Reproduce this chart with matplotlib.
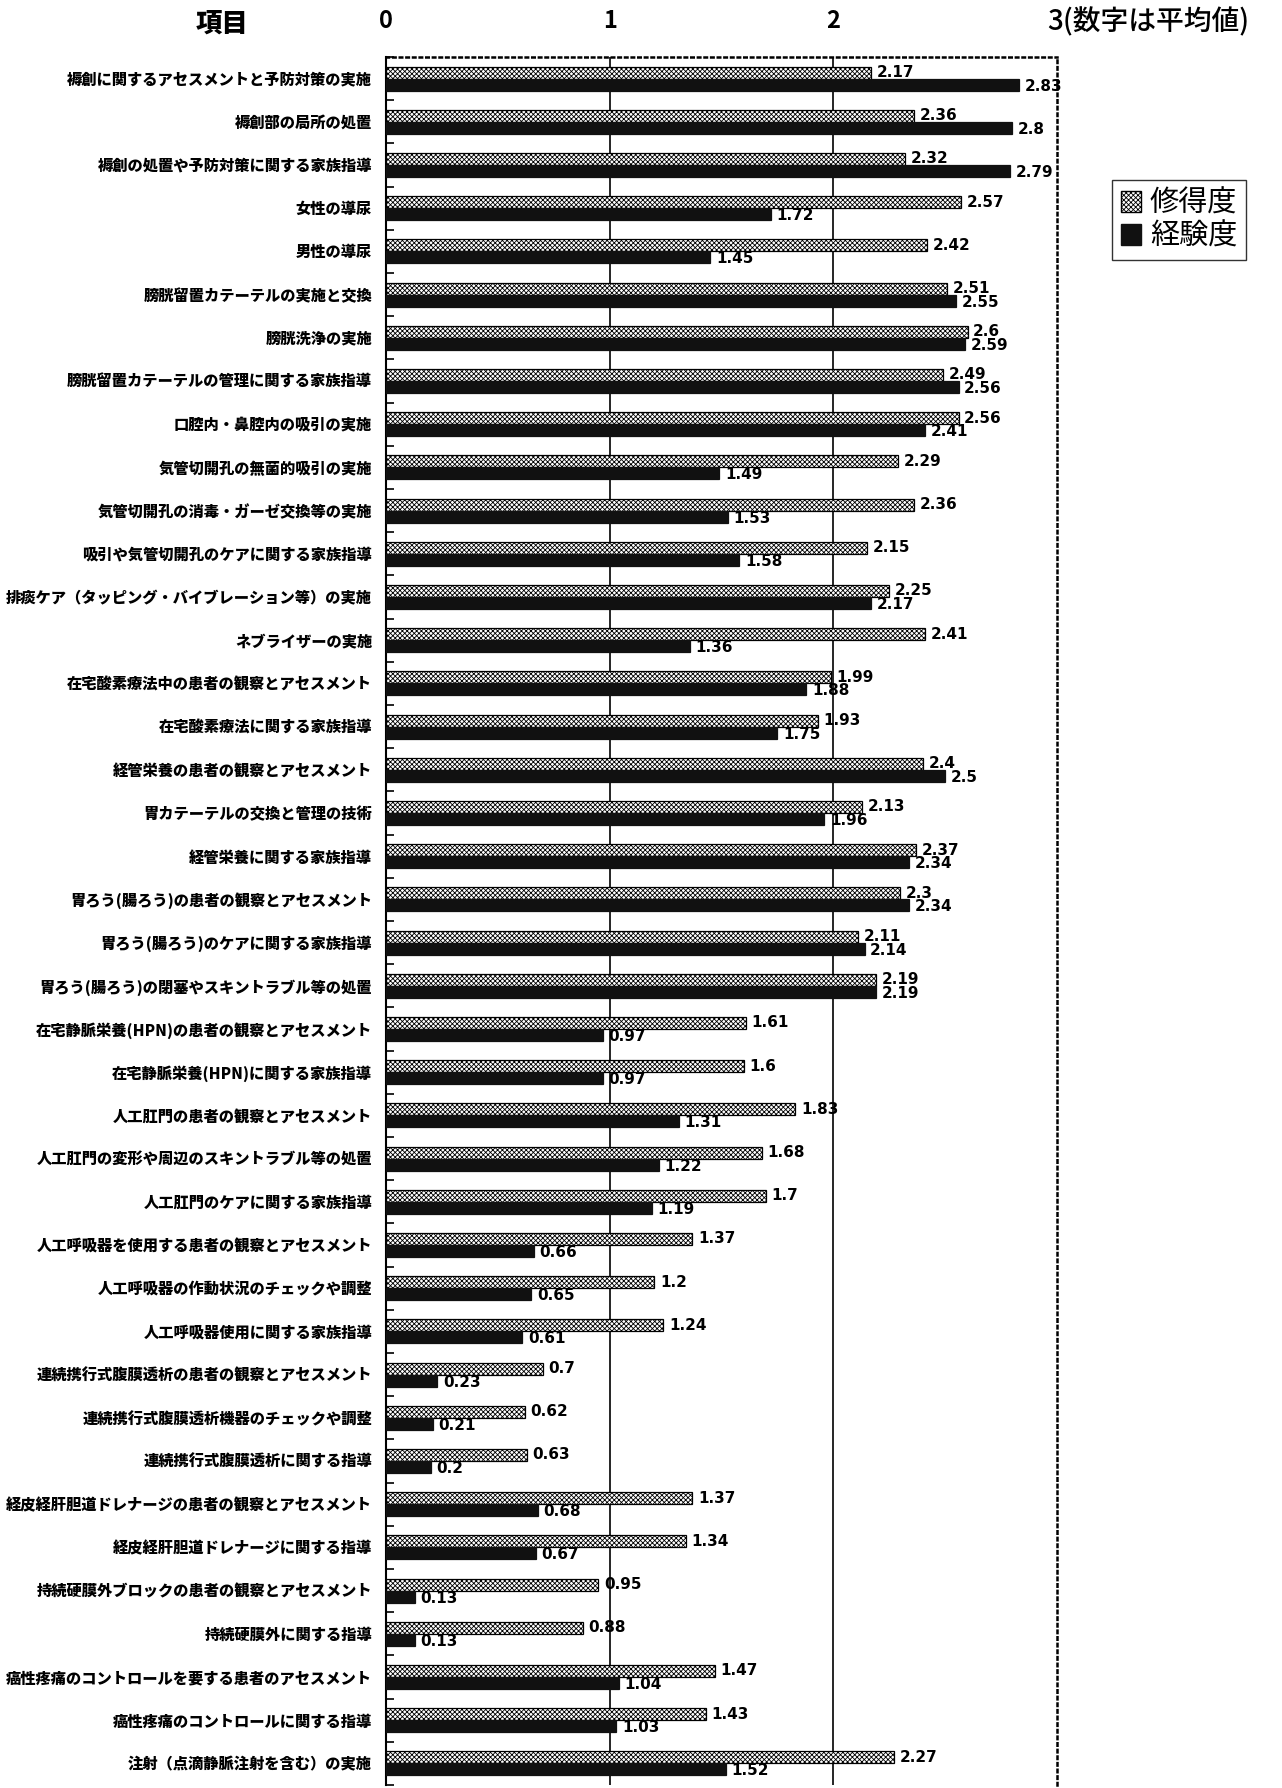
import numpy as np
import matplotlib.pyplot as plt
from matplotlib.patches import Patch

plt.rcParams['font.family'] = ['Noto Sans CJK JP', 'DejaVu Sans']
plt.rcParams['hatch.linewidth'] = 0.6

items = [
    '褥創に関するアセスメントと予防対策の実施',
    '褥創部の局所の処置',
    '褥創の処置や予防対策に関する家族指導',
    '女性の導尿',
    '男性の導尿',
    '膀胱留置カテーテルの実施と交換',
    '膀胱洗浄の実施',
    '膀胱留置カテーテルの管理に関する家族指導',
    '口腔内・鼻腔内の吸引の実施',
    '気管切開孔の無菌的吸引の実施',
    '気管切開孔の消毒・ガーゼ交換等の実施',
    '吸引や気管切開孔のケアに関する家族指導',
    '排痰ケア（タッピング・バイブレーション等）の実施',
    'ネブライザーの実施',
    '在宅酸素療法中の患者の観察とアセスメント',
    '在宅酸素療法に関する家族指導',
    '経管栄養の患者の観察とアセスメント',
    '胃カテーテルの交換と管理の技術',
    '経管栄養に関する家族指導',
    '胃ろう(腸ろう)の患者の観察とアセスメント',
    '胃ろう(腸ろう)のケアに関する家族指導',
    '胃ろう(腸ろう)の閉塞やスキントラブル等の処置',
    '在宅静脈栄養(HPN)の患者の観察とアセスメント',
    '在宅静脈栄養(HPN)に関する家族指導',
    '人工肛門の患者の観察とアセスメント',
    '人工肛門の変形や周辺のスキントラブル等の処置',
    '人工肛門のケアに関する家族指導',
    '人工呼吸器を使用する患者の観察とアセスメント',
    '人工呼吸器の作動状況のチェックや調整',
    '人工呼吸器使用に関する家族指導',
    '連続携行式腹膜透析の患者の観察とアセスメント',
    '連続携行式腹膜透析機器のチェックや調整',
    '連続携行式腹膜透析に関する指導',
    '経皮経肝胆道ドレナージの患者の観察とアセスメント',
    '経皮経肝胆道ドレナージに関する指導',
    '持続硬膜外ブロックの患者の観察とアセスメント',
    '持続硬膜外に関する指導',
    '癌性疼痛のコントロールを要する患者のアセスメント',
    '癌性疼痛のコントロールに関する指導',
    '注射（点滴静脈注射を含む）の実施',
]

shutoku = [2.17, 2.36, 2.32, 2.57, 2.42, 2.51, 2.6, 2.49, 2.56, 2.29,
           2.36, 2.15, 2.25, 2.41, 1.99, 1.93, 2.4, 2.13, 2.37, 2.3,
           2.11, 2.19, 1.61, 1.6, 1.83, 1.68, 1.7, 1.37, 1.2, 1.24,
           0.7, 0.62, 0.63, 1.37, 1.34, 0.95, 0.88, 1.47, 1.43, 2.27]

keiken = [2.83, 2.8, 2.79, 1.72, 1.45, 2.55, 2.59, 2.56, 2.41, 1.49,
          1.53, 1.58, 2.17, 1.36, 1.88, 1.75, 2.5, 1.96, 2.34, 2.34,
          2.14, 2.19, 0.97, 0.97, 1.31, 1.22, 1.19, 0.66, 0.65, 0.61,
          0.23, 0.21, 0.2, 0.68, 0.67, 0.13, 0.13, 1.04, 1.03, 1.52]

xticks = [0, 1, 2]
xticklabels = ['0', '1', '2']

W, H = 1282, 1788
fig = plt.figure(figsize=(W / 100, H / 100), dpi=100)
ax = fig.add_axes([386 / W, 3 / H, 671 / W, 1728 / H])

y = np.arange(len(items))
h = 0.28
ax.barh(y - h / 2, shutoku, height=h, color='white', edgecolor='black',
        hatch='xxxxxxx', linewidth=0.9, zorder=3)
ax.barh(y + h / 2, keiken, height=h, color='#111111', edgecolor='#111111',
        linewidth=0.9, zorder=3)

numfont = dict(family=['Liberation Sans Narrow', 'DejaVu Sans'],
               fontsize=11, fontweight='bold')
for i in range(len(items)):
    ax.annotate(f'{shutoku[i]:g}', (shutoku[i], y[i] - h / 2),
                xytext=(4, 0), textcoords='offset points',
                va='center', ha='left', **numfont)
    ax.annotate(f'{keiken[i]:g}', (keiken[i], y[i] + h / 2),
                xytext=(4, -1), textcoords='offset points',
                va='center', ha='left', **numfont)

ax.set_xlim(0, 3)
ax.set_ylim(len(items) - 0.5, -0.5)

for gx in [1, 2]:
    ax.axvline(gx, color='black', linewidth=1.2, zorder=1)

ax.set_yticks(y)
ax.set_yticklabels(items, fontsize=11, fontweight='heavy')
ax.set_yticks(np.arange(len(items) + 1) - 0.5, minor=True)
ax.tick_params(axis='y', which='major', length=0, pad=10)
ax.tick_params(axis='y', which='minor', direction='in', length=6, width=1.2)

ax.xaxis.tick_top()
ax.set_xticks(xticks)
ax.set_xticklabels(xticklabels, fontsize=17, fontweight='bold')
ax.tick_params(axis='x', which='major', length=0, pad=17)
ax.annotate('3(数字は平均値)', (3, 1), xycoords=('data', 'axes fraction'),
            xytext=(-7, 15), textcoords='offset points',
            ha='left', va='bottom', fontsize=20, fontweight='medium')
ax.annotate('項目', (222 / W, 1 - 23 / H), xycoords='figure fraction',
            ha='center', va='center', fontsize=19, fontweight='heavy')

# chart is cut off at the bottom in the source, so no bottom frame
ax.spines['left'].set_linewidth(1.5)
ax.spines['bottom'].set_visible(False)
for s in ['top', 'right']:
    ax.spines[s].set_linestyle(':')
    ax.spines[s].set_linewidth(1.8)

handles = [Patch(facecolor='white', edgecolor='black', hatch='xxxxxxx', label='修得度'),
           Patch(facecolor='#111111', edgecolor='#111111', label='経験度')]
fig.legend(handles=handles, loc='upper left', bbox_to_anchor=(1112 / W, 1 - 180 / H),
           fontsize=21, frameon=True, fancybox=False, edgecolor='black',
           handlelength=0.7, handleheight=0.7, handletextpad=0.3,
           borderpad=0.3, labelspacing=0.1, borderaxespad=0)

fig.savefig('out.png', dpi=100)
